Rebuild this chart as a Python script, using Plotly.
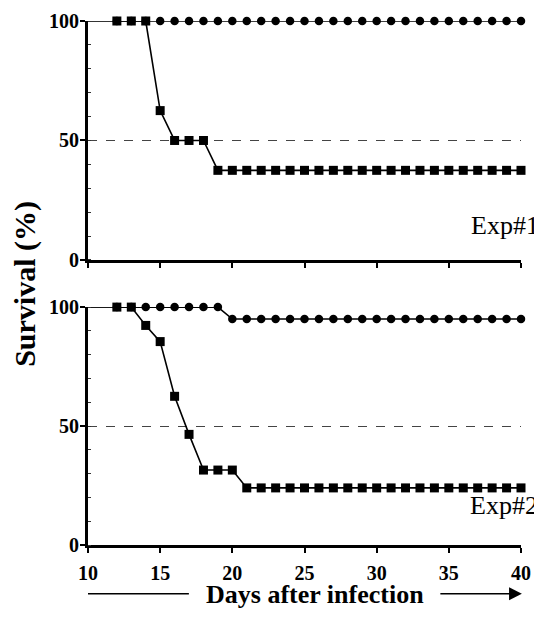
import plotly.graph_objects as go
from plotly.subplots import make_subplots

days = [12, 13, 14, 15, 16, 17, 18, 19, 20, 21, 22, 23, 24, 25, 26, 27, 28, 29,
        30, 31, 32, 33, 34, 35, 36, 37, 38, 39, 40]

exp1_circles = [100, 100, 100, 100, 100, 100, 100, 100, 100, 100, 100, 100, 100, 100, 100,
                100, 100, 100, 100, 100, 100, 100, 100, 100, 100, 100, 100, 100, 100]
exp1_squares = [100, 100, 100, 62.5, 50, 50, 50, 37.5, 37.5, 37.5, 37.5, 37.5, 37.5, 37.5,
                37.5, 37.5, 37.5, 37.5, 37.5, 37.5, 37.5, 37.5, 37.5, 37.5, 37.5, 37.5,
                37.5, 37.5, 37.5]
exp2_circles = [100, 100, 100, 100, 100, 100, 100, 100, 95, 95, 95, 95, 95, 95, 95, 95,
                95, 95, 95, 95, 95, 95, 95, 95, 95, 95, 95, 95, 95]
exp2_squares = [100, 100, 92.3, 85.5, 62.5, 46.5, 31.5, 31.5, 31.5, 24, 24, 24, 24, 24,
                24, 24, 24, 24, 24, 24, 24, 24, 24, 24, 24, 24, 24, 24, 24]

# starting segment (day 10 to first observation, all alive)
start_days = [10, 12]
start_survival = [100, 100]

x_ticks = [10, 15, 20, 25, 30, 35, 40]
y_ticks = [0, 50, 100]
panel_labels = ["Exp#1", "Exp#2"]

SERIF = "Liberation Serif"

fig = make_subplots(rows=2, cols=1, vertical_spacing=0.09)

def add_panel(row, circles, squares):
    fig.add_trace(go.Scatter(x=start_days, y=start_survival, mode="lines",
                             line=dict(color="black", width=1.6),
                             cliponaxis=False, showlegend=False), row=row, col=1)
    fig.add_trace(go.Scatter(x=days, y=circles, mode="lines+markers",
                             line=dict(color="black", width=1.6),
                             marker=dict(symbol="circle", size=8.5, color="black"),
                             cliponaxis=False, showlegend=False), row=row, col=1)
    fig.add_trace(go.Scatter(x=days, y=squares, mode="lines+markers",
                             line=dict(color="black", width=1.6),
                             marker=dict(symbol="square", size=9, color="black"),
                             cliponaxis=False, showlegend=False), row=row, col=1)

add_panel(1, exp1_circles, exp1_squares)
add_panel(2, exp2_circles, exp2_squares)

axis_common = dict(showline=True, linecolor="black", linewidth=3, ticks="outside",
                   ticklen=5, tickwidth=2, tickcolor="black", zeroline=False,
                   automargin=False)

for r in (1, 2):
    fig.update_xaxes(range=[10, 40], tickvals=x_ticks, showgrid=False,
                     showticklabels=(r == 2), ticklabelstandoff=3,
                     tickfont=dict(family=SERIF, size=20, color="black", weight="bold"),
                     row=r, col=1, **axis_common)
    fig.update_yaxes(range=[0, 100], tickvals=y_ticks, showgrid=True,
                     gridcolor="#444", gridwidth=0.8, griddash="dash",
                     ticklabelstandoff=-3,
                     tickfont=dict(family=SERIF, size=20, color="black", weight="bold"),
                     minor=dict(dtick=10, ticks="inside", ticklen=3, tickwidth=1,
                                tickcolor="#333", showgrid=False),
                     row=r, col=1, **axis_common)

# page body adds an 8px offset, so the figure is sized/margined to compensate
fig.update_layout(
    width=534, height=609,
    margin=dict(l=80, r=21, t=13, b=72),
    paper_bgcolor="white", plot_bgcolor="white",
    xaxis=dict(domain=[0, 1]),
    yaxis=dict(domain=[0.544, 1.0]),
    yaxis2=dict(domain=[0.0, 0.454]),
)

# panel labels
fig.add_annotation(x=36.4, y=14.6, xref="x", yref="y", text=panel_labels[0],
                   showarrow=False, xanchor="left", yanchor="middle",
                   font=dict(family=SERIF, size=26, color="black"))
fig.add_annotation(x=36.3, y=16.8, xref="x2", yref="y2", text=panel_labels[1],
                   showarrow=False, xanchor="left", yanchor="middle",
                   font=dict(family=SERIF, size=26, color="black"))

# y title
fig.add_annotation(x=-0.147, y=0.499, xref="paper", yref="paper", text="Survival (%)",
                   textangle=-90, showarrow=False, xanchor="center", yanchor="middle",
                   font=dict(family=SERIF, size=30, color="black", weight="bold"))

# x title with arrows
fig.add_annotation(x=0.524, y=-0.095, xref="paper", yref="paper",
                   text="Days after infection", showarrow=False,
                   xanchor="center", yanchor="middle",
                   font=dict(family=SERIF, size=26, color="black", weight="bold"))
fig.add_shape(type="line", xref="paper", yref="paper", x0=0.0, x1=0.233,
              y0=-0.093, y1=-0.093, line=dict(color="black", width=1.6))
fig.add_annotation(x=1.002, y=-0.093, xref="paper", yref="paper", text="",
                   showarrow=True, ax=-83, ay=0, axref="pixel", ayref="pixel",
                   arrowhead=2, arrowsize=1.6, arrowwidth=1.6, arrowcolor="black")

fig.write_html("out.html")
